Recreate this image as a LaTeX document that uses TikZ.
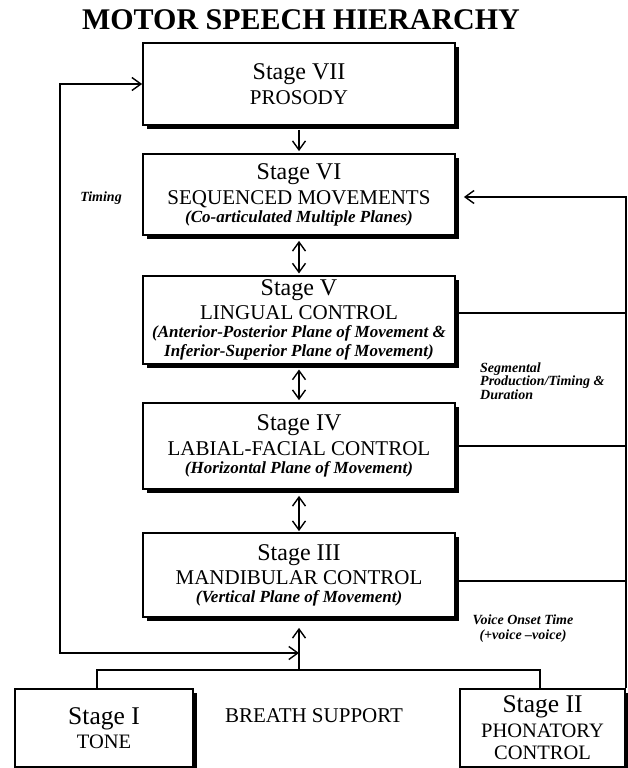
\documentclass[tikz,border=0pt]{standalone}
\usepackage{fontspec}
\setmainfont{Liberation Serif}
\usetikzlibrary{arrows.meta,shadows}
\newcommand{\stagehead}[2][24]{{\fontsize{#1}{#1}\selectfont #2}}
\newcommand{\stageplane}[1]{{\fontsize{17}{17}\selectfont\bfseries\itshape #1}}

\begin{document}
\begin{tikzpicture}[x=1pt,y=-1pt,
  stagebox/.style={draw,line width=1.8pt,fill=white,minimum width=312pt,align=center,
    font=\fontsize{21}{18}\selectfont,
    general shadow={fill=black,shadow xshift=4pt,shadow yshift=-4pt}},
  link/.style={line width=1.4pt},
  arr/.style={link,-{Straight Barb[length=9pt,width=13pt]}},
  darr/.style={link,{Straight Barb[length=9pt,width=13pt]}-{Straight Barb[length=9pt,width=13pt]}},
  note/.style={font=\fontsize{14}{12}\selectfont\bfseries\itshape,inner sep=0pt}]
\useasboundingbox (0,0) rectangle (627,768);

% Titolo
\node[font=\fontsize{30}{30}\selectfont\bfseries,anchor=base] (title) at (301,30) {MOTOR SPEECH HIERARCHY};

% Stadi
\node[stagebox,minimum height=82pt] (s7) at (299,84) {\stagehead{Stage VII}\\[5pt] PROSODY};
\node[stagebox,minimum height=81pt] (s6) at (299,194.5) {\stagehead{Stage VI}\\[5pt] SEQUENCED MOVEMENTS\\
  \stageplane{(Co-articulated Multiple Planes)}};
\node[stagebox,minimum height=82pt] (s5) at (299,320) {\stagehead{Stage V}\\[4pt] LINGUAL CONTROL\\
  \stageplane{(Anterior-Posterior Plane of Movement \&}\\[1pt]
  \stageplane{Inferior-Superior Plane of Movement)}};
\node[stagebox,minimum height=86pt] (s4) at (299,446) {\stagehead{Stage IV}\\[5pt] LABIAL-FACIAL CONTROL\\
  \stageplane{(Horizontal Plane of Movement)}};
\node[stagebox,minimum height=84pt] (s3) at (299,575) {\stagehead{Stage III}\\[4pt] MANDIBULAR CONTROL\\
  \stageplane{(Vertical Plane of Movement)}};
\node[stagebox,minimum width=178pt,minimum height=78pt,font=\fontsize{20.5}{18}\selectfont] (s1) at (104,728)
  {\stagehead[25.5]{Stage I}\\[4pt] TONE};
\node[stagebox,minimum width=165pt,minimum height=78pt,font=\fontsize{20.5}{18}\selectfont] (s2) at (542.5,728)
  {\stagehead[25.5]{Stage II}\\[5pt] PHONATORY\\[4pt] CONTROL};

% Frecce tra gli stadi
\draw[arr,shorten <=4pt,shorten >=2pt] (s7.south) -- (s6.north);
\draw[darr,shorten <=5pt,shorten >=2pt] (s6.south) -- (s5.north);
\draw[darr,shorten <=5pt,shorten >=2pt] (s5.south) -- (s4.north);
\draw[darr,shorten <=6pt,shorten >=1pt] (s4.south) -- (s3.north);

% Anello del timing a sinistra
\coordinate (lb) at (60,653);
\coordinate (jn) at (299,653);
\coordinate (bus) at (299,670);
\draw[darr] (s7.west) -| (lb) -- (jn);

% Supporto respiratorio
\draw[link] ([xshift=-7pt]s1.north) |- (bus) -| ([xshift=-2.5pt]s2.north);
\draw[arr,shorten >=10pt] (bus) -- (s3.south);

% Ritorno a destra
\draw[arr,shorten >=8pt] (s2.north east) |- ([yshift=-2.5pt]s6.east);
\draw[link] ([yshift=7pt]s5.east) -- ([yshift=7pt]s5.east -| s2.east);
\draw[link] (s4.east) -- (s4.east -| s2.east);
\draw[link] ([yshift=-6pt]s3.east) -- ([yshift=-6pt]s3.east -| s2.east);

% Etichette
\node[note,anchor=base] (timing) at (101,201) {Timing};
\node[note,align=left,anchor=west] (seg) at (480,381) {Segmental\\Production/Timing \&\\Duration};
\node[note,align=center,font=\fontsize{14}{15}\selectfont\bfseries\itshape] (vot) at (523,629)
  {Voice Onset Time\\(+voice --voice)};
\node[font=\fontsize{21}{21}\selectfont,anchor=base] (breath) at (314,722) {BREATH SUPPORT};
\end{tikzpicture}
\end{document}
